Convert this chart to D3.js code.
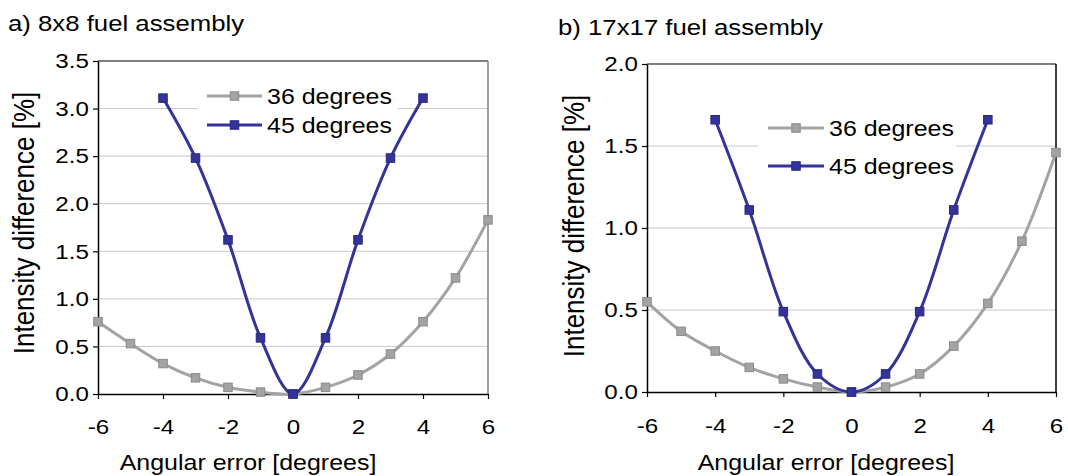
<!DOCTYPE html>
<html>
<head>
<meta charset="utf-8">
<script src="https://cdn.jsdelivr.net/npm/d3@7"></script>
<style>
  html, body { margin: 0; padding: 0; background: #fff; }
  svg { display: block; font-family: "Liberation Sans", Arial, sans-serif; }
</style>
</head>
<body>
<svg id="chart" width="1068" height="476"></svg>
<script>
// ---- data ----
const xs36 = [-6, -5, -4, -3, -2, -1, 0, 1, 2, 3, 4, 5, 6];
const xs45 = [-4, -3, -2, -1, 0, 1, 2, 3, 4];
const a36 = [0.76, 0.53, 0.32, 0.17, 0.07, 0.02, 0, 0.07, 0.2, 0.42, 0.76, 1.22, 1.83];
const a45 = [3.11, 2.48, 1.62, 0.59, 0, 0.59, 1.62, 2.48, 3.11];
const b36 = [0.55, 0.37, 0.25, 0.15, 0.08, 0.03, 0, 0.03, 0.11, 0.28, 0.54, 0.92, 1.46];
const b45 = [1.66, 1.11, 0.49, 0.11, 0, 0.11, 0.49, 1.11, 1.66];
const xTicks = [-6, -4, -2, 0, 2, 4, 6];
const aYTicks = [0, 0.5, 1.0, 1.5, 2.0, 2.5, 3.0, 3.5];
const bYTicks = [0, 0.5, 1.0, 1.5, 2.0];
const seriesNames = ["36 degrees", "45 degrees"];
const titles = ["a) 8x8 fuel assembly", "b) 17x17 fuel assembly"];
const xTitle = "Angular error [degrees]";
const yTitle = "Intensity difference [%]";

const SX = 1.12; // horizontal glyph stretch of the original
const TSX = 1.15;
const GRAY = "#a3a3a3", GRAY_EDGE = "#8a8a8a", BLUE = "#333399", BLUE_EDGE = "#262680";

const svg = d3.select("#chart");

function txt(g, x, y, s, size, anchor, rot) {
  const t = g.append("text")
    .attr("font-size", size)
    .attr("text-anchor", anchor || "start")
    .attr("fill", "#000")
    .text(s);
  if (rot) t.attr("transform", `translate(${x},${y}) rotate(-90) scale(1,${SX})`);
  else t.attr("transform", `translate(${x},${y}) scale(${SX},1)`);
  return t;
}

function panel(cfg) {
  const g = svg.append("g");
  const x = d3.scaleLinear().domain([-6, 6]).range([cfg.x0, cfg.x1]);
  const y = d3.scaleLinear().domain([0, cfg.ymax]).range([cfg.yb, cfg.yt]);

  // gridlines
  g.append("g").selectAll("line").data(cfg.yTicks.filter(v => v > 0 && v < cfg.ymax))
    .join("line")
    .attr("x1", cfg.x0).attr("x2", cfg.x1)
    .attr("y1", d => y(d)).attr("y2", d => y(d))
    .attr("stroke", "#c8c8c8").attr("stroke-width", 1);

  // frame top/right
  g.append("line").attr("x1", cfg.x0).attr("x2", cfg.x1).attr("y1", cfg.yt).attr("y2", cfg.yt)
    .attr("stroke", "#000").attr("stroke-width", 1.2);
  g.append("line").attr("x1", cfg.x1).attr("x2", cfg.x1).attr("y1", cfg.yt).attr("y2", cfg.yb)
    .attr("stroke", cfg.rightEdge).attr("stroke-width", 1.5);

  // axes
  const ax = g.append("g").attr("transform", `translate(0,${cfg.yb})`)
    .call(d3.axisBottom(x).tickValues(xTicks).tickSize(5).tickSizeOuter(0).tickPadding(cfg.xPad).tickFormat(d3.format("d")));
  const ay = g.append("g").attr("transform", `translate(${cfg.x0},0)`)
    .call(d3.axisLeft(y).tickValues(cfg.yTicks).tickSize(5).tickSizeOuter(0).tickPadding(3).tickFormat(d3.format(".1f")));
  [ax, ay].forEach(a => {
    a.select(".domain").attr("stroke", "#000").attr("stroke-width", 1.5);
    a.selectAll(".tick line").attr("stroke", "#000").attr("stroke-width", 1.2);
    a.selectAll(".tick text").attr("font-size", 21).attr("fill", "#000")
      .attr("font-family", "Liberation Sans, Arial, sans-serif");
  });
  ax.selectAll(".tick text").attr("transform", `scale(${TSX},1)`).attr("dy", "0.95em");
  ay.selectAll(".tick text").attr("transform", `scale(${TSX},1)`);
  ax.selectAll(".tick text").text(d => d < 0 ? "-" + Math.abs(d) : d);

  // lines
  const line = d3.line().x(d => x(d[0])).y(d => y(d[1])).curve(d3.curveCatmullRom.alpha(0.5));
  const s36 = cfg.xs36.map((v, i) => [v, cfg.v36[i]]);
  const s45 = cfg.xs45.map((v, i) => [v, cfg.v45[i]]);
  const series = [
    { pts: s36, c: GRAY, e: GRAY_EDGE },
    { pts: s45, c: BLUE, e: BLUE_EDGE }
  ];
  const ms = 8.5;
  series.forEach(s => {
    g.append("path").attr("d", line(s.pts)).attr("fill", "none")
      .attr("stroke", s.c).attr("stroke-width", 3);
    g.append("g").selectAll("rect").data(s.pts).join("rect")
      .attr("x", d => x(d[0]) - ms / 2).attr("y", d => y(d[1]) - ms / 2)
      .attr("width", ms).attr("height", ms)
      .attr("fill", s.c).attr("stroke", s.e).attr("stroke-width", 1);
  });

  // legend
  const L = cfg.leg;
  g.append("rect").attr("x", L.bx).attr("y", L.by).attr("width", L.bw).attr("height", L.bh).attr("fill", "#fff");
  seriesNames.forEach((nm, i) => {
    const s = series[i];
    const yy = L.y0 + i * L.dy;
    g.append("line").attr("x1", L.lx0).attr("x2", L.lx1).attr("y1", yy).attr("y2", yy)
      .attr("stroke", s.c).attr("stroke-width", 3);
    g.append("rect").attr("x", (L.lx0 + L.lx1) / 2 - ms / 2).attr("y", yy - ms / 2)
      .attr("width", ms).attr("height", ms).attr("fill", s.c).attr("stroke", s.e);
    txt(g, L.tx, yy + 8, nm, 22.3, "start");
  });

  // titles
  txt(g, cfg.titleX, cfg.titleY, cfg.title, 23, "start");
  txt(g, cfg.xtX, 470, xTitle, 22.3, "middle");
  txt(g, cfg.ytX, cfg.ytY, yTitle, 26, "middle", true);
}

panel({
  x0: 98, x1: 488, yt: 61, yb: 394, ymax: 3.5, yTicks: aYTicks, xPad: 15,
  xs36: xs36, v36: a36, xs45: xs45, v45: a45, rightEdge: "#808080",
  leg: { bx: 198, by: 82, bw: 200, bh: 56, y0: 96, dy: 29, lx0: 207, lx1: 262, tx: 267 },
  title: titles[0], titleX: 8, titleY: 31, xtX: 248, ytX: 34, ytY: 223
});
panel({
  x0: 647, x1: 1056, yt: 64, yb: 392, ymax: 2.0, yTicks: bYTicks, xPad: 16,
  xs36: xs36, v36: b36, xs45: xs45, v45: b45, rightEdge: "#000",
  leg: { bx: 758, by: 108, bw: 198, bh: 76, y0: 128, dy: 38, lx0: 768, lx1: 824, tx: 829 },
  title: titles[1], titleX: 558, titleY: 35, xtX: 826, ytX: 584, ytY: 226
});
</script>
</body>
</html>
